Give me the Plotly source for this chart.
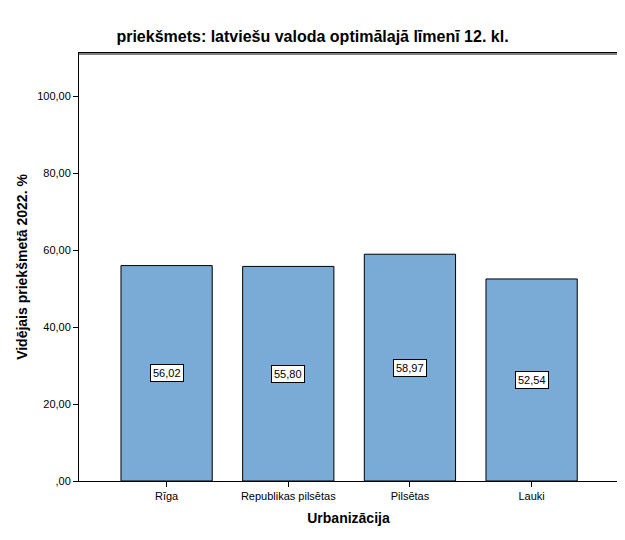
import plotly.graph_objects as go

categories = ["Rīga", "Republikas pilsētas", "Pilsētas", "Lauki"]
values = [56.02, 55.80, 58.97, 52.54]
ytick_vals = [0, 20, 40, 60, 80, 100]
ytick_text = [",00", "20,00", "40,00", "60,00", "80,00", "100,00"]

FONT = "Liberation Sans, Arial, sans-serif"

fig = go.Figure()
fig.add_trace(go.Bar(
    x=list(range(len(categories))),
    y=values,
    width=0.75,
    marker=dict(color="#7AAAD6", line=dict(color="black", width=1)),
    hoverinfo="skip",
))

for i, v in enumerate(values):
    fig.add_annotation(
        x=i, y=v / 2, text=f"{v:.2f}".replace(".", ","),
        showarrow=False, bgcolor="white", bordercolor="black", borderwidth=1,
        borderpad=2, font=dict(family=FONT, size=11, color="black"),
    )

fig.add_shape(type="line", xref="paper", yref="paper", x0=0, x1=1,
              y0=1 - 1.0 / 428, y1=1 - 1.0 / 428,
              line=dict(color="black", width=1.2), layer="above")

fig.update_layout(
    width=625, height=540,
    paper_bgcolor="white", plot_bgcolor="white",
    margin=dict(l=71, r=15, t=45, b=67, autoexpand=False),
    showlegend=False,
    font=dict(family=FONT, color="black"),
    title=dict(
        text="<b>priekšmets: latviešu valoda optimālajā līmenī 12. kl.</b>",
        x=304.5 / 625, xref="container", xanchor="center",
        y=1 - 28 / 540, yref="container", yanchor="middle",
        font=dict(family=FONT, size=16, color="black"),
    ),
)

fig.update_xaxes(
    range=[-0.72, 3.71], automargin=False,
    tickvals=list(range(len(categories))), ticktext=categories,
    ticks="outside", ticklen=5, tickcolor="black",
    showline=True, linecolor="black", linewidth=1, mirror=True,
    showgrid=False, zeroline=False,
    tickfont=dict(family=FONT, size=11, color="black"),
    title=dict(text="<b>Urbanizācija</b>", font=dict(family=FONT, size=14, color="black"), standoff=11),
)
fig.update_yaxes(
    range=[0, 111.3], automargin=False,
    tickvals=ytick_vals, ticktext=ytick_text,
    ticks="outside", ticklen=5, tickcolor="black",
    showline=True, linecolor="black", linewidth=1, mirror=True,
    showgrid=False, zeroline=False,
    tickfont=dict(family=FONT, size=11, color="black"),
    title=dict(text="<b>Vidējais priekšmetā 2022. %</b>", font=dict(family=FONT, size=14, color="black"), standoff=6),
)

fig.write_html("out.html")
